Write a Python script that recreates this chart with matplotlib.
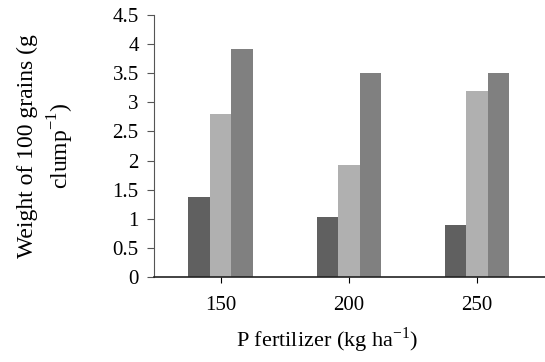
import matplotlib
matplotlib.use("Agg")
import matplotlib.pyplot as plt
import numpy as np

# P fertilizer rates and 100-grain weights for three treatments
p_rates = ["150", "200", "250"]
series_a = [1.38, 1.03, 0.89]
series_b = [2.80, 1.92, 3.20]
series_c = [3.92, 3.50, 3.50]
y_ticks = [0, 0.5, 1, 1.5, 2, 2.5, 3, 3.5, 4, 4.5]

plt.rcParams['font.family'] = ['Liberation Serif', 'DejaVu Serif']

fig = plt.figure(figsize=(5.45, 3.62), dpi=100)
ax = fig.add_axes([0.2826, 0.2348, 0.7174, 0.7238])

x = np.arange(len(p_rates))
w = 0.168
ax.bar(x - w, series_a, w, color="#606060")
ax.bar(x, series_b, w, color="#b0b0b0")
ax.bar(x + w, series_c, w, color="#808080")

ax.set_xlim(-0.52, 2.53)
ax.set_ylim(0, 4.5)
ax.set_yticks(y_ticks)
ax.set_yticklabels([("%g" % v) for v in y_ticks], fontsize=15)
ax.set_xticks(x)
ax.set_xticklabels(p_rates, fontsize=15)

for s in ["top", "right"]:
    ax.spines[s].set_visible(False)
ax.spines["left"].set_color("#555555")
ax.spines["bottom"].set_color("#222222")
ax.spines["bottom"].set_linewidth(1.2)
ax.tick_params(axis="y", length=5, width=0.8, color="#555555", pad=6)
ax.tick_params(axis="x", length=4, width=0.8, pad=10)

fig.text(0.085, 0.597, "Weight of 100 grains (g\nclump$^{\\mathregular{-1}}$)",
         rotation=90, ha="center", va="center", fontsize=17, linespacing=1.35)
fig.text(0.601, 0.06, "P fertilizer (kg ha$^{\\mathregular{-1}}$)",
         ha="center", va="center", fontsize=16)

fig.savefig("out.png", dpi=100)
